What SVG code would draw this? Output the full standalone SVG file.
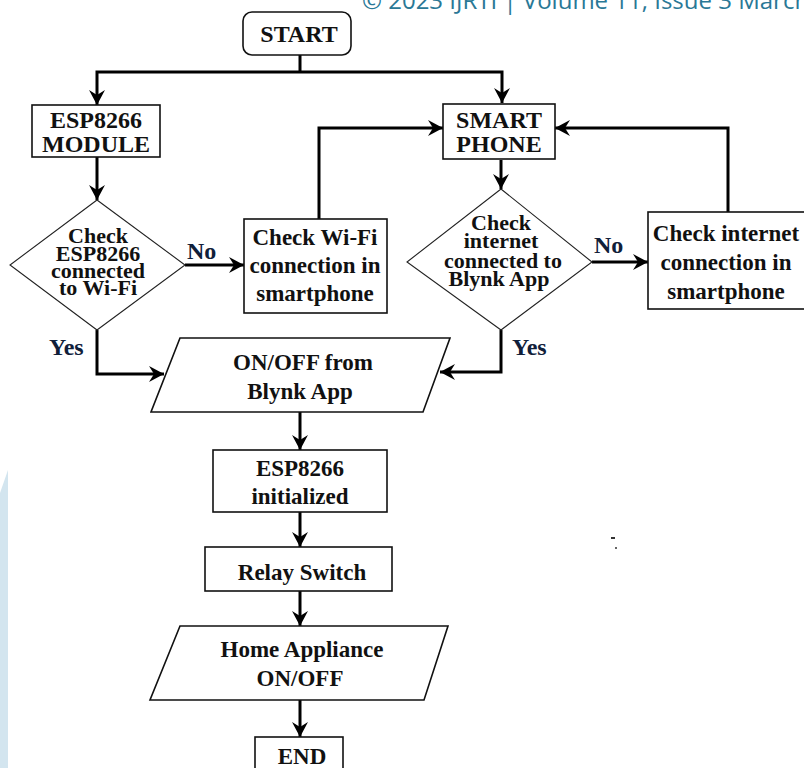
<svg xmlns="http://www.w3.org/2000/svg" width="804" height="768" viewBox="0 0 804 768">
<style>
.t{font-family:"Liberation Serif","Times New Roman",serif;font-weight:bold;fill:#111;text-anchor:middle}
.b{fill:#fff;stroke:#111;stroke-width:1.6}
.d{fill:#fff;stroke:#222;stroke-width:1.1}
.c{fill:none;stroke:#000;stroke-width:3}
.l{font-family:"Liberation Serif","Times New Roman",serif;font-weight:bold;fill:#10203a;font-size:24px}
</style>
<defs>
<marker id="ah" markerUnits="userSpaceOnUse" markerWidth="18" markerHeight="18" refX="15" refY="8" orient="auto">
<path d="M0,0 L15,8 L0,16 L5,8 z" fill="#000"/>
</marker>
</defs>
<rect width="804" height="768" fill="#fff"/>
<polygon points="0,493 8,470 8,768 0,768" fill="#d3e5ef"/>
<text x="362" y="9" font-family="'Open Sans',sans-serif" font-size="24" fill="#2a7896">© 2023 IJRTI | Volume 11, Issue 3 March</text>

<g id="connectors">
<path class="c" d="M300,55 V72"/>
<path class="c" d="M300,72 H97 V105" marker-end="url(#ah)"/>
<path class="c" d="M300,72 H502 V103" marker-end="url(#ah)"/>
<path class="c" d="M97,157 V200" marker-end="url(#ah)"/>
<path class="c" d="M185,265 H244" marker-end="url(#ah)"/>
<path class="c" d="M319,219 V128 H443" marker-end="url(#ah)"/>
<path class="c" d="M501,160 V189" marker-end="url(#ah)"/>
<path class="c" d="M592,262 H648" marker-end="url(#ah)"/>
<path class="c" d="M728,212 V128 H555" marker-end="url(#ah)"/>
<path class="c" d="M97,330 V374 H164" marker-end="url(#ah)"/>
<path class="c" d="M501,330 V372 H440" marker-end="url(#ah)"/>
<path class="c" d="M300,412 V450" marker-end="url(#ah)"/>
<path class="c" d="M300,512 V547" marker-end="url(#ah)"/>
<path class="c" d="M300,591 V626" marker-end="url(#ah)"/>
<path class="c" d="M300,700 V737" marker-end="url(#ah)"/>
<text class="l" x="187" y="259">No</text>
<text class="l" x="594" y="253">No</text>
<text class="l" x="49" y="355">Yes</text>
<text class="l" x="512" y="355">Yes</text>
</g>

<g id="start">
<rect class="b" x="243" y="12" width="108" height="43" rx="9"/>
<text class="t" x="299" y="42" font-size="24">START</text>
</g>

<g id="esp-module">
<rect class="b" x="32" y="105" width="128" height="52"/>
<text class="t" x="96" y="128" font-size="24">ESP8266</text>
<text class="t" x="96" y="152" font-size="24">MODULE</text>
</g>

<g id="check-esp">
<polygon class="d" points="97,200 185,265 97,330 10,265"/>
<text class="t" x="98" y="243" font-size="22">Check</text>
<text class="t" x="98" y="261" font-size="22">ESP8266</text>
<text class="t" x="98" y="278" font-size="22">connected</text>
<text class="t" x="98" y="295" font-size="22">to Wi-Fi</text>
</g>

<g id="check-wifi">
<rect class="b" x="244" y="219" width="143" height="94"/>
<text class="t" x="315" y="245" font-size="23">Check Wi-Fi</text>
<text class="t" x="315" y="273" font-size="23">connection in</text>
<text class="t" x="315" y="301" font-size="23">smartphone</text>
</g>

<g id="smartphone">
<rect class="b" x="443" y="104" width="112" height="55"/>
<text class="t" x="499" y="128" font-size="24">SMART</text>
<text class="t" x="499" y="152" font-size="24">PHONE</text>
</g>

<g id="check-internet">
<polygon class="d" points="501,189 592,262 501,330 407,262"/>
<text class="t" x="501" y="230" font-size="22">Check</text>
<text class="t" x="501" y="248" font-size="22">internet</text>
<text class="t" x="503" y="268" font-size="22">connected to</text>
<text class="t" x="499" y="286" font-size="22">Blynk App</text>
</g>

<g id="check-internet-box">
<rect class="b" x="648" y="212" width="158" height="97"/>
<text class="t" x="726" y="241" font-size="23">Check internet</text>
<text class="t" x="726" y="270" font-size="23">connection in</text>
<text class="t" x="726" y="299" font-size="23">smartphone</text>
</g>

<g id="onoff-blynk">
<polygon class="b" points="180,338 450,338 423,412 151,412"/>
<text class="t" x="303" y="370" font-size="23">ON/OFF from</text>
<text class="t" x="300" y="399" font-size="23">Blynk App</text>
</g>

<g id="esp-init">
<rect class="b" x="213" y="450" width="174" height="62"/>
<text class="t" x="300" y="476" font-size="23">ESP8266</text>
<text class="t" x="300" y="504" font-size="23">initialized</text>
</g>

<g id="relay">
<rect class="b" x="205" y="547" width="187" height="44"/>
<text class="t" x="302" y="580" font-size="23">Relay Switch</text>
</g>

<g id="home-appliance">
<polygon class="b" points="180,626 448,626 424,700 150,700"/>
<text class="t" x="302" y="657" font-size="23">Home Appliance</text>
<text class="t" x="300" y="686" font-size="23">ON/OFF</text>
</g>

<g id="end">
<rect class="b" x="255" y="737" width="88" height="40"/>
<text class="t" x="302" y="764" font-size="23">END</text>
</g>

<rect x="611" y="537" width="4" height="2" fill="#333"/>
<rect x="615" y="547" width="2" height="2" fill="#666"/>
</svg>
